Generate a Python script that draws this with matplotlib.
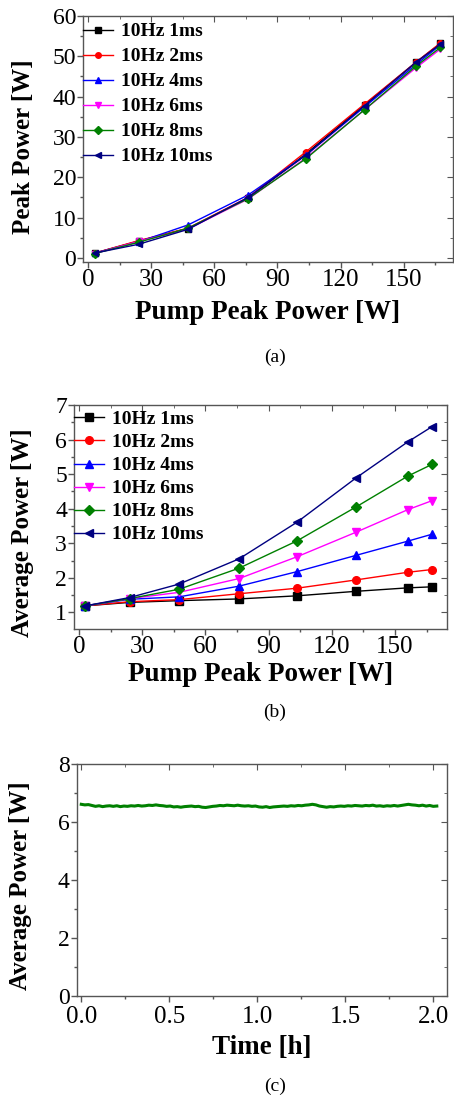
import numpy as np
import matplotlib
matplotlib.use("Agg")
import matplotlib.pyplot as plt
from matplotlib.ticker import MultipleLocator, FormatStrFormatter

plt.rcParams["font.family"] = ["Liberation Serif", "DejaVu Serif"]

# ---- data ----------------------------------------------------------------
pump_power = [3, 24, 47.5, 76, 103.5, 131.5, 156, 167.5]
labels = ["10Hz 1ms", "10Hz 2ms", "10Hz 4ms", "10Hz 6ms", "10Hz 8ms", "10Hz 10ms"]

peak_1ms  = [1.2, 4.2, 7.3, 14.8, 25.8, 38.0, 48.5, 53.2]
peak_2ms  = [1.2, 4.3, 7.4, 15.0, 26.3, 38.2, 48.6, 53.3]
peak_4ms  = [1.2, 4.0, 8.2, 15.6, 25.5, 37.5, 48.0, 52.8]
peak_6ms  = [1.1, 4.1, 7.2, 14.6, 24.8, 36.8, 47.2, 51.8]
peak_8ms  = [1.1, 3.9, 7.4, 14.7, 24.6, 36.8, 47.6, 52.2]
peak_10ms = [1.2, 3.4, 7.1, 15.0, 25.5, 37.8, 48.6, 53.0]

avg_1ms  = [1.19, 1.29, 1.34, 1.39, 1.48, 1.61, 1.71, 1.74]
avg_2ms  = [1.19, 1.31, 1.37, 1.54, 1.70, 1.94, 2.16, 2.24]
avg_4ms  = [1.19, 1.38, 1.45, 1.76, 2.18, 2.65, 3.06, 3.26]
avg_6ms  = [1.19, 1.40, 1.58, 1.98, 2.61, 3.32, 3.97, 4.23]
avg_8ms  = [1.19, 1.40, 1.67, 2.28, 3.07, 4.05, 4.94, 5.28]
avg_10ms = [1.19, 1.43, 1.82, 2.55, 3.61, 4.89, 5.93, 6.37]

# stability trace, sampled evenly over 0 - 2.02 h
stab_power = [
    6.61, 6.59, 6.60, 6.57, 6.54, 6.56, 6.53, 6.55, 6.56, 6.54,
    6.56, 6.53, 6.55, 6.54, 6.56, 6.55, 6.57, 6.55, 6.56, 6.58,
    6.57, 6.59, 6.57, 6.56, 6.54, 6.55, 6.52, 6.53, 6.51, 6.53,
    6.54, 6.55, 6.53, 6.54, 6.51, 6.50, 6.52, 6.54, 6.55, 6.57,
    6.56, 6.58, 6.57, 6.56, 6.58, 6.56, 6.55, 6.56, 6.54, 6.55,
    6.52, 6.51, 6.53, 6.50, 6.52, 6.53, 6.54, 6.55, 6.54, 6.56,
    6.55, 6.57, 6.56, 6.58, 6.59, 6.61, 6.59, 6.55, 6.53, 6.51,
    6.53, 6.52, 6.54, 6.55, 6.54, 6.56, 6.55, 6.57, 6.56, 6.55,
    6.57, 6.56, 6.58, 6.55, 6.56, 6.54, 6.56, 6.55, 6.57, 6.55,
    6.57, 6.59, 6.61, 6.59, 6.58, 6.56, 6.58, 6.55, 6.57, 6.54,
    6.55,
]
stab_time = np.linspace(0, 2.02, len(stab_power))

colors  = ["black", "red", "blue", "magenta", "#008000", "#000080"]
markers = ["s", "o", "^", "v", "D", "<"]

peak_series = [peak_1ms, peak_2ms, peak_4ms, peak_6ms, peak_8ms, peak_10ms]
avg_series  = [avg_1ms, avg_2ms, avg_4ms, avg_6ms, avg_8ms, avg_10ms]

W, H = 454, 1100
SPINE = "#555555"
fig = plt.figure(figsize=(W / 100, H / 100), dpi=100)


def box(left, top, right, bottom):
    return [left / W, 1 - bottom / H, (right - left) / W, (bottom - top) / H]


def style_axes(ax, xmajor, xminor, ymajor, yminor):
    for s in ax.spines.values():
        s.set_color(SPINE)
        s.set_linewidth(1.0)
    ax.xaxis.set_major_locator(MultipleLocator(xmajor))
    ax.xaxis.set_minor_locator(MultipleLocator(xminor))
    ax.yaxis.set_major_locator(MultipleLocator(ymajor))
    ax.yaxis.set_minor_locator(MultipleLocator(yminor))
    ax.tick_params(which="major", direction="out", length=4, width=1, color=SPINE)
    ax.tick_params(which="minor", direction="out", length=2, width=1, color=SPINE)
    ax.tick_params(axis="x", labelsize=18, pad=1)
    ax.tick_params(axis="y", labelsize=17, pad=1)
    # mirrored inward ticks on top / right
    top = ax.secondary_xaxis("top")
    top.xaxis.set_major_locator(MultipleLocator(xmajor))
    top.xaxis.set_minor_locator(MultipleLocator(xminor))
    top.tick_params(which="both", direction="in", labeltop=False, color=SPINE)
    top.tick_params(which="major", length=4)
    top.tick_params(which="minor", length=2)
    right = ax.secondary_yaxis("right")
    right.yaxis.set_major_locator(MultipleLocator(ymajor))
    right.yaxis.set_minor_locator(MultipleLocator(yminor))
    right.tick_params(which="both", direction="in", labelright=False, color=SPINE)
    right.tick_params(which="major", length=4)
    right.tick_params(which="minor", length=2)
    for s in list(top.spines.values()) + list(right.spines.values()):
        s.set_visible(False)


def labels_at(ax, xl, yl, xy, yx, yy):
    ax.set_xlabel(xl, fontsize=19.5, fontweight="bold")
    ax.set_ylabel(yl, fontsize=18, fontweight="bold")
    ax.xaxis.label.set_va("center")
    ax.yaxis.label.set_va("center")
    ax.xaxis.set_label_coords(0.5, xy)
    ax.yaxis.set_label_coords(yx, yy)


def add_legend(ax, top_frac, spacing):
    ax.legend(loc="upper left", bbox_to_anchor=(0, top_frac), frameon=False,
              borderaxespad=0, borderpad=0, handlelength=1.55, handletextpad=0.38,
              labelspacing=spacing, numpoints=1,
              prop={"size": 14, "weight": "bold"})


# ---- (a) peak power ------------------------------------------------------
ax1 = fig.add_axes(box(83, 16, 453, 262))
for ys, c, m, lab in zip(peak_series, colors, markers, labels):
    ax1.plot(pump_power, ys, color=c, marker=m, markersize=4, linewidth=1, label=lab)
ax1.set_xlim(-2.5, 173.5)
ax1.set_ylim(-1, 60)
style_axes(ax1, 30, 15, 10, 5)
labels_at(ax1, "Pump Peak Power [W]", "Peak Power [W]", -0.207, -0.162, 0.47)
add_legend(ax1, 0.972, 0.38)

# ---- (b) average power ---------------------------------------------------
ax2 = fig.add_axes(box(74, 405, 447, 629))
for ys, c, m, lab in zip(avg_series, colors, markers, labels):
    ax2.plot(pump_power, ys, color=c, marker=m, markersize=5.5, linewidth=1, label=lab)
ax2.set_xlim(-2.4, 174.7)
ax2.set_ylim(0.52, 7)
style_axes(ax2, 30, 15, 1, 0.5)
labels_at(ax2, "Pump Peak Power [W]", "Average Power [W]", -0.205, -0.137, 0.43)
add_legend(ax2, 0.975, 0.28)

# ---- (c) stability -------------------------------------------------------
ax3 = fig.add_axes(box(76.7, 764, 447, 996))
ax3.plot(stab_time, stab_power, color="#008000", linewidth=2.2)
ax3.set_xlim(-0.026, 2.078)
ax3.set_ylim(0, 8)
style_axes(ax3, 0.5, 0.25, 2, 1)
ax3.xaxis.set_major_formatter(FormatStrFormatter("%.1f"))
ax3.tick_params(axis="x", pad=3)
labels_at(ax3, "Time [h]", "Average Power [W]", -0.224, -0.153, 0.474)

# ---- captions ------------------------------------------------------------
for cap, y in [("(a)", 357), ("(b)", 712), ("(c)", 1086)]:
    fig.text(275 / W, 1 - y / H, cap, ha="center", va="center", fontsize=14)

fig.savefig("out.png", dpi=100)
